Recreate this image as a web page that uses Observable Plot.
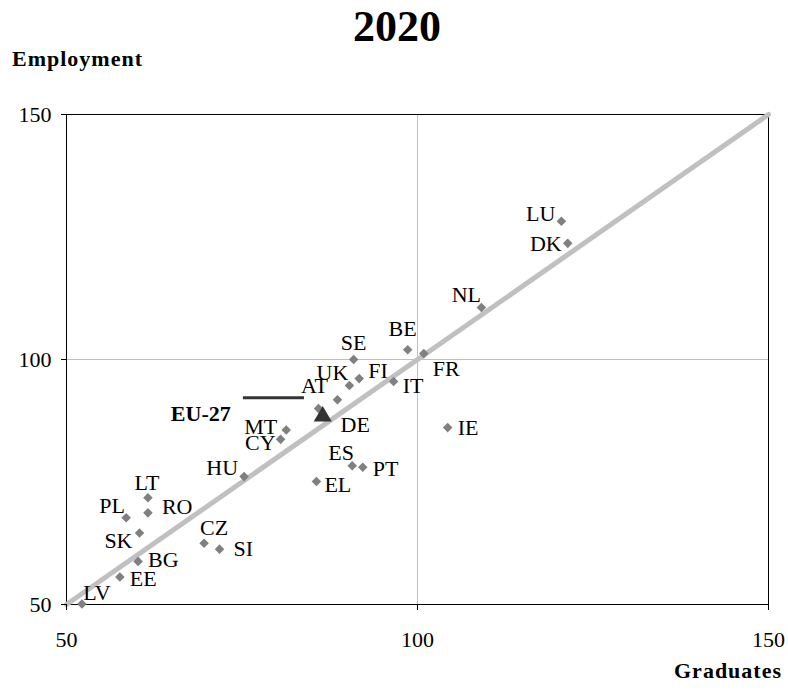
<!DOCTYPE html>
<html>
<head>
<meta charset="utf-8">
<script src="https://cdn.jsdelivr.net/npm/d3@7"></script>
<script src="https://cdn.jsdelivr.net/npm/@observablehq/plot@0.6"></script>
<style>
  html, body { margin: 0; padding: 0; background: #fff; }
  #wrap { position: relative; width: 788px; height: 691px; font-family: "Liberation Serif", "Times New Roman", serif; }
  .t { position: absolute; font-weight: bold; color: #000; white-space: nowrap; line-height: 1; }
  #title { left: 0; width: 794px; text-align: center; top: 5px; font-size: 44px; }
  #ylab { left: 12px; top: 48px; font-size: 22px; letter-spacing: 1px; }
  #xlab { right: 6px; top: 660px; font-size: 22px; letter-spacing: 1px; }
  svg { position: absolute; left: 0; top: 0; }
</style>
</head>
<body>
<div id="wrap">
  <div id="chart"></div>
  <div class="t" id="title">2020</div>
  <div class="t" id="ylab">Employment</div>
  <div class="t" id="xlab">Graduates</div>
</div>
<script>
// ---- data ----
const countries  = ["LU","DK","NL","BE","FR","SE","FI","UK","IT","AT","DE","MT","CY","HU","ES","PT","EL","IE","LT","RO","PL","SK","CZ","SI","BG","EE","LV"];
const graduates  = [120.5,121.4,109.1,98.6,100.9,90.9,91.7,90.3,96.6,88.6,85.9,81.3,80.5,75.3,90.7,92.2,85.6,104.3,61.6,61.6,58.5,60.4,69.6,71.8,60.2,57.6,52.2];
const employment = [128.2,123.7,110.6,102.0,101.2,100.0,96.1,94.7,95.5,91.8,90.0,85.6,83.7,76.1,78.3,78.0,75.1,86.1,71.8,68.7,67.7,64.6,62.5,61.3,58.8,55.6,50.1];
const euLabel = "EU-27";
const euGraduates = 86.5;
const euEmployment = 88.4;
const xTicks = [50, 100, 150];
const yTicks = [50, 100, 150];
const diagonal = [50, 150];
// leader line of the EU-27 label (graduates from/to, employment)
const euLeaderX = [75.2, 83.9];
const euLeaderY = 92.2;

// ---- label placement (style) ----
const place = {
  LU:[-6,-7,"end"], DK:[-6,1,"end"], NL:[-15,-13,"middle"], BE:[-5,-21,"middle"],
  FR:[9,15,"start"], SE:[0,-17,"middle"], FI:[9,-8,"start"], UK:[-1,-13,"end"],
  IT:[9,4,"start"], AT:[-23,-14,"middle"], DE:[22,16,"start"], MT:[-9,-3,"end"],
  CY:[-5,4,"end"], HU:[-6,-9,"end"], ES:[-11,-13,"middle"], PT:[10,2,"start"],
  EL:[8,3,"start"], IE:[10,0,"start"], LT:[-1,-15,"middle"], RO:[14,-6,"start"],
  PL:[-14,-12,"middle"], SK:[-7,8,"end"], CZ:[10,-15,"middle"], SI:[14,0,"start"],
  BG:[10,-1,"start"], EE:[10,2,"start"], LV:[15,-11,"middle"]
};

const pts = countries.map((c, i) => ({c, x: graduates[i], y: employment[i]}));
const font = "Liberation Serif, Times New Roman, serif";

const labelMarks = pts.map(d =>
  Plot.text([d], {x: "x", y: "y", text: "c", dx: place[d.c][0], dy: place[d.c][1],
    textAnchor: place[d.c][2], fontSize: 22, fill: "#000", fontFamily: font})
);

const chart = Plot.plot({
  width: 788, height: 691,
  marginLeft: 66, marginRight: 20, marginTop: 114, marginBottom: 87,
  style: {fontFamily: font, fontSize: "22px", background: "transparent", overflow: "visible"},
  x: {domain: [50, 150], label: null},
  y: {domain: [50, 150], label: null},
  marks: [
    Plot.ruleX([100], {stroke: "#c0c0c0", strokeWidth: 1}),
    Plot.ruleY([100], {stroke: "#c0c0c0", strokeWidth: 1}),
    Plot.frame({stroke: "#000", strokeWidth: 1}),
    Plot.line(diagonal.map(v => ({x: v, y: v})), {x: "x", y: "y", stroke: "#c0c0c0", strokeWidth: 5, strokeLinecap: "round"}),
    Plot.dot(pts, {x: "x", y: "y", symbol: "diamond2", r: 4.3, fill: "#808080", stroke: null}),
    Plot.dot([{x: euGraduates, y: euEmployment}], {x: "x", y: "y", symbol: "triangle", r: 6.7, fill: "#333333", stroke: null}),
    Plot.ruleY([euLeaderY], {x1: euLeaderX[0], x2: euLeaderX[1], stroke: "#333333", strokeWidth: 3}),
    Plot.text([{x: euGraduates, y: euEmployment, t: euLabel}], {x: "x", y: "y", text: "t", dx: -92, dy: -2, textAnchor: "end", fontWeight: "bold", fontSize: 22, fill: "#000", fontFamily: font}),
    ...labelMarks,
    Plot.axisX({ticks: xTicks, tickSize: 6, tickPadding: 21, fontSize: 22, label: null}),
    Plot.axisY({ticks: yTicks, tickSize: 5, tickPadding: 10, fontSize: 22, label: null})
  ]
});
document.getElementById("chart").appendChild(chart);
</script>
</body>
</html>
